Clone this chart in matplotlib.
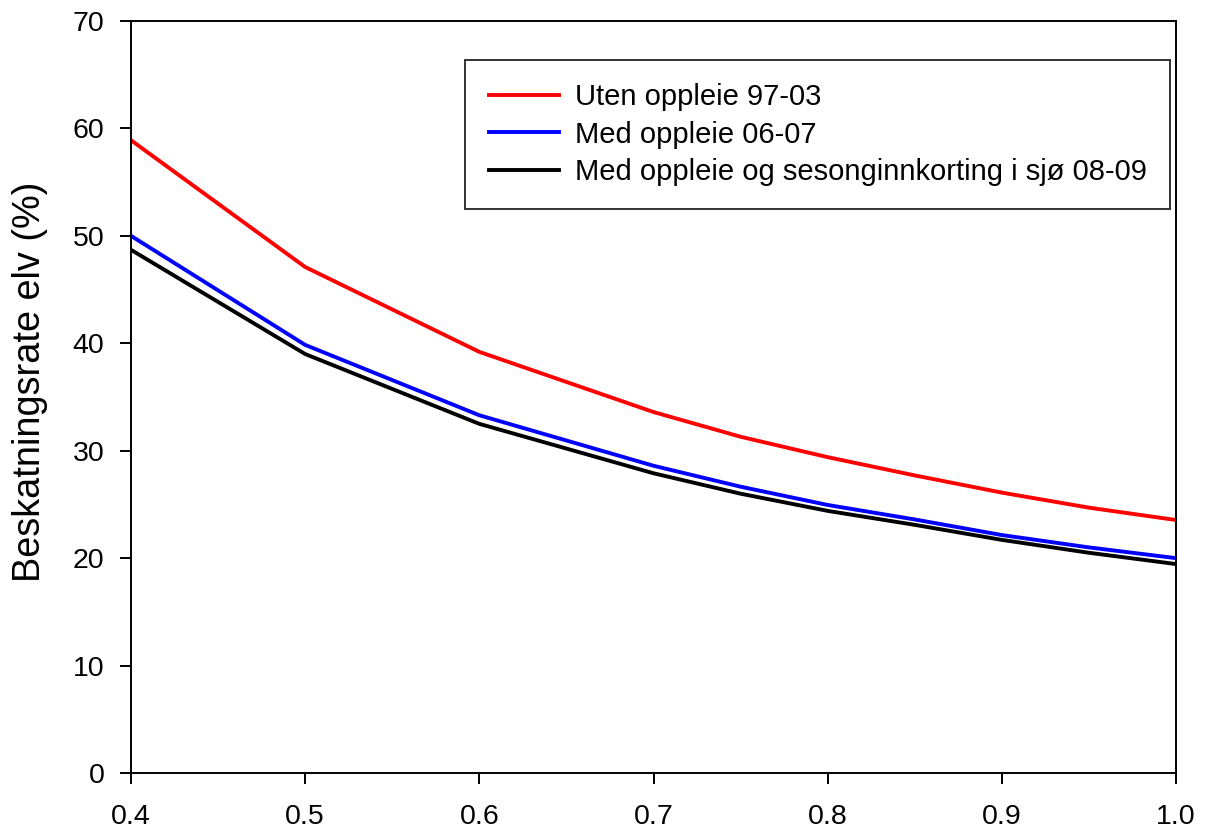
import matplotlib

matplotlib.use("Agg")
import matplotlib.pyplot as plt

# exploitation rate (x) vs. river harvest rate (%)
x_values = [0.4, 0.5, 0.6, 0.7, 0.75, 0.8, 0.85, 0.9, 0.95, 1.0]
uten_oppleie = [58.9, 47.1, 39.2, 33.6, 31.3, 29.4, 27.7, 26.1, 24.7, 23.55]
med_oppleie = [50.0, 39.85, 33.3, 28.6, 26.65, 24.95, 23.6, 22.15, 21.0, 20.0]
med_sesong = [48.7, 39.0, 32.5, 27.9, 26.0, 24.4, 23.1, 21.7, 20.5, 19.45]

series_labels = [
    "Uten oppleie 97-03",
    "Med oppleie 06-07",
    "Med oppleie og sesonginnkorting i sjø 08-09",
]
series_colors = ["#FF0000", "#0000FF", "#000000"]

x_ticks = [0.4, 0.5, 0.6, 0.7, 0.8, 0.9, 1.0]
y_ticks = [0, 10, 20, 30, 40, 50, 60, 70]

plt.rcParams["font.family"] = ["Liberation Sans", "DejaVu Sans"]

fig = plt.figure(figsize=(12.06, 8.30), dpi=100, facecolor="white")
ax = fig.add_axes([131 / 1206, 1 - 773 / 830, (1176 - 131) / 1206, (773 - 21) / 830])

for values, label, color in zip([uten_oppleie, med_oppleie, med_sesong], series_labels, series_colors):
    ax.plot(x_values, values, color=color, linewidth=2.8, label=label, solid_joinstyle="miter")

ax.set_xlim(0.4, 1.0)
ax.set_ylim(0, 70)
ax.set_xticks(x_ticks)
ax.set_xticklabels([f"{t:.1f}" for t in x_ticks])
ax.set_yticks(y_ticks)

for spine in ax.spines.values():
    spine.set_linewidth(1.4)
    spine.set_color("black")

ax.tick_params(axis="both", direction="out", length=8, width=1.4, labelsize=20.5, colors="black")
ax.tick_params(axis="x", pad=14.5)
ax.tick_params(axis="y", pad=11)
ax.set_ylabel("Beskatningsrate elv (%)", fontsize=27.3)
ax.yaxis.set_label_coords(-0.079, 0.52)

legend = ax.legend(
    loc="upper right",
    bbox_to_anchor=(1170 / 1206, 1 - 60 / 830),
    bbox_transform=fig.transFigure,
    fontsize=21,
    frameon=True,
    fancybox=False,
    edgecolor="black",
    handlelength=2.4,
    handletextpad=0.55,
    labelspacing=0.32,
    borderpad=0.8,
    borderaxespad=0,
)
legend.get_frame().set_linewidth(1.4)
for line in legend.get_lines():
    line.set_linewidth(2.8)

fig.savefig("out.png", dpi=100, facecolor="white")
